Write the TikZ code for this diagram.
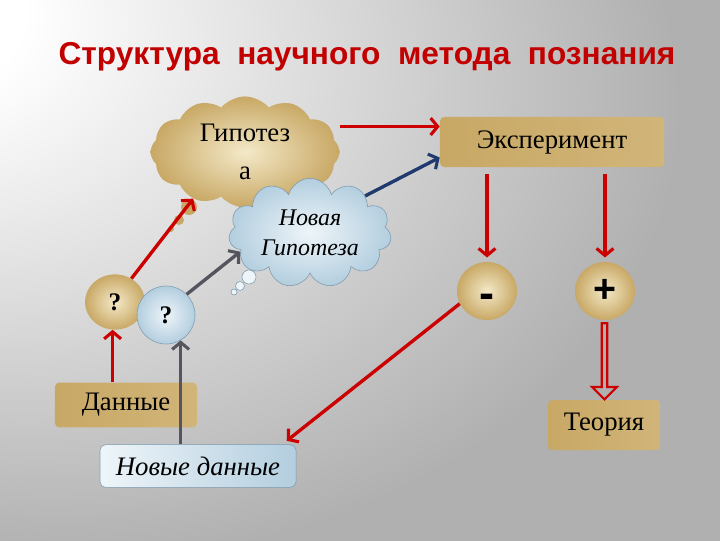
\documentclass[tikz,border=0pt]{standalone}
\usepackage{fontspec}
\setmainfont{Liberation Serif}
\setsansfont{Liberation Sans}
\usetikzlibrary{shapes.symbols,shapes.geometric,shapes.arrows,arrows.meta,calc}

\definecolor{golddark}{HTML}{C8A865}
\definecolor{goldlight}{HTML}{F4E9C8}
\definecolor{bluedark}{HTML}{B3CEDF}
\definecolor{bluelight}{HTML}{EEF5F9}
\definecolor{blueline}{HTML}{7D9BAF}
\definecolor{arrred}{HTML}{CC0000}
\definecolor{arrblue}{HTML}{1F3A6E}
\definecolor{arrgray}{HTML}{55555F}
\definecolor{bgray}{HTML}{B0B0B0}

\pgfdeclareradialshading{bgshade}{\pgfpoint{-34bp}{26bp}}{color(0bp)=(white); color(8bp)=(white); color(42bp)=(bgray); color(100bp)=(bgray)}

\begin{document}
\begin{tikzpicture}[x=0.025cm, y=-0.025cm,
  goldbox/.style = {draw=none, left color=golddark, middle color=goldlight, right color=golddark!80!goldlight, rounded corners=3pt, font=\fontsize{19}{22}\selectfont},
  goldball/.style = {ellipse, inner color=goldlight, outer color=golddark, inner sep=0pt},
  blueball/.style = {circle, draw=blueline, thin, inner color=bluelight, outer color=bluedark, inner sep=0pt},
  redarr/.style = {draw=arrred, line width=2.4pt, -{Straight Barb[length=5pt,width=12pt,line width=2.2pt]}},
  grayarr/.style = {draw=arrgray, line width=2.4pt, -{Straight Barb[length=5pt,width=12pt,line width=2.2pt]}},
  bluearr/.style = {draw=arrblue, line width=2.4pt, -{Straight Barb[length=5pt,width=12pt,line width=2.2pt]}}]

\useasboundingbox (0,0) rectangle (720,540);
\shade[shading=bgshade] (0,0) rectangle (720,540);

\node[font=\sffamily\bfseries\fontsize{22.5}{26}\selectfont, text=arrred!95!black] (title) at (367,57) {Структура\ \ научного\ \ метода\ \ познания};

% clouds
\node[cloud, cloud puffs=12, cloud puff arc=100, aspect=2, inner color=goldlight, outer color=golddark, minimum width=4.4cm, minimum height=2.1cm, align=center, font=\fontsize{19}{27}\selectfont] (hyp) at (245,152) {Гипотез\\а};
\fill[golddark] (189,207) circle (8);
\fill[golddark] (179,220) circle (5);
\fill[golddark] (171,229) circle (3);

\node[cloud, cloud puffs=11, aspect=1.9, draw=blueline, thin, inner color=bluelight, outer color=bluedark, minimum width=3.9cm, minimum height=2cm, align=center, font=\itshape\fontsize{17}{21}\selectfont] (nhyp) at (310,233) {Новая\\Гипотеза};
\filldraw[draw=blueline, fill=bluelight] (249,277) circle (7);
\filldraw[draw=blueline, fill=bluelight] (240,286) circle (4.5);
\filldraw[draw=blueline, fill=bluelight] (234,292) circle (3);

% boxes
\node[goldbox, minimum width=5.6cm, minimum height=1.25cm] (exp) at (552,142) {Эксперимент};
\node[goldbox, minimum width=3.55cm, minimum height=1.12cm] (data) at (126,405) {Данные};
\node[goldbox, minimum width=2.8cm, minimum height=1.25cm] (theory) at (604,425) {Теория};
\node[draw=blueline, left color=bluelight, right color=bluedark, rounded corners=4pt, minimum width=4.9cm, minimum height=1.07cm, font=\itshape\fontsize{19}{22}\selectfont] (ndata) at (198,466) {Новые данные};

% balls
\node[goldball, minimum width=1.5cm, minimum height=1.38cm, font=\bfseries\fontsize{18}{20}\selectfont] (q1) at (115,302) {?};
\node[blueball, minimum size=1.45cm, font=\bfseries\fontsize{18}{20}\selectfont] (q2) at (166,315) {?};
\node[goldball, minimum width=1.5cm, minimum height=1.45cm, font=\sffamily\bfseries\fontsize{32}{32}\selectfont] (minus) at (487,291) {\raisebox{-0.38em}[0pt][0pt]{-}};
\node[goldball, minimum width=1.5cm, minimum height=1.45cm, font=\sffamily\bfseries\fontsize{28}{30}\selectfont] (plus) at (605,291) {+};

% arrows
\coordinate (e1) at ([yshift=11pt]exp.west);
\coordinate (e2) at ([yshift=-11pt]exp.west);
\draw[redarr] (hyp.east |- e1) -- (e1);
\draw[bluearr] (nhyp.north east) -- (e2);
\draw[redarr] (q1.55) -- (hyp.222);
\draw[grayarr] (q2.45) -- (nhyp.195);
\draw[redarr] (data.north -| q1.-95) -- (q1.-95);
\draw[grayarr] (ndata.north -| q2.-60) -- (q2.-60);
\draw[redarr, shorten <=5pt, shorten >=3pt] (exp.south -| minus) -- (minus.north);
\draw[redarr, shorten <=5pt, shorten >=3pt] (exp.south -| plus) -- (plus.north);
\draw[redarr, shorten >=4pt] (minus.205) -- ([xshift=-0.35cm]ndata.north east);
\node[single arrow, shape border rotate=270, draw=arrred, line width=1.6pt, fill=bgray, inner sep=0pt, minimum width=0.62cm, minimum height=1.9cm, single arrow head extend=0.1cm, single arrow head indent=0pt] (thru) at ($(plus.south)!0.5!(theory.north)$) {};
\end{tikzpicture}
\end{document}
